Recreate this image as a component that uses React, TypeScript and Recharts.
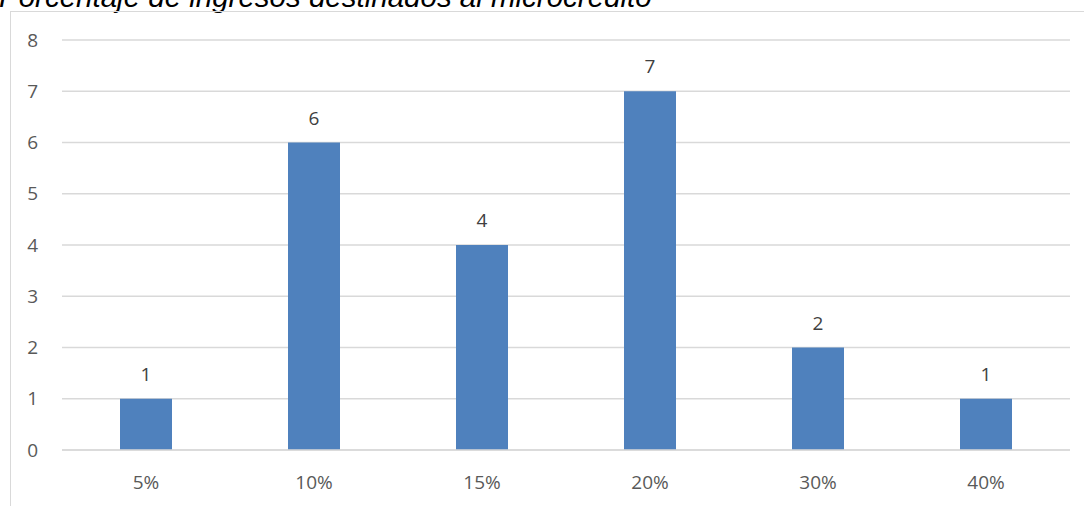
import { BarChart, Bar, XAxis, YAxis, CartesianGrid, LabelList } from "recharts"

const categories = ["5%", "10%", "15%", "20%", "30%", "40%"]
const counts = [1, 6, 4, 7, 2, 1]
const yTicks = [0, 1, 2, 3, 4, 5, 6, 7, 8]

const data = categories.map((name, i) => ({ name, value: counts[i] }))

const textColor = "#595959"
const gridColor = "#d9d9d9"
const font = "'Open Sans', sans-serif"

export default function App() {
  return (
    <div style={{ position: "absolute", left: 0, top: 0, width: 1084, height: 506, overflow: "hidden", background: "#fff" }}>
      <div
        style={{
          position: "absolute",
          left: -1,
          top: -20,
          lineHeight: "34px",
          fontFamily: "'Liberation Sans', Arial, sans-serif",
          fontStyle: "italic",
          fontSize: 29.5,
          whiteSpace: "nowrap",
          color: "#000",
        }}
      >
        Porcentaje de ingresos destinados al microcrédito
      </div>
      <div
        style={{
          position: "absolute",
          left: 10,
          top: 11,
          width: 1200,
          height: 600,
          borderLeft: `1px solid ${gridColor}`,
          borderTop: `1px solid ${gridColor}`,
        }}
      />
      <div style={{ position: "absolute", left: 0, top: 0 }}>
        <BarChart width={1084} height={506} data={data} margin={{ top: 40, right: 14, bottom: 26, left: 10 }}>
          <CartesianGrid vertical={false} stroke={gridColor} strokeWidth={1.5} />
          <XAxis
            dataKey="name"
            height={30}
            tickLine={false}
            axisLine={{ stroke: gridColor, strokeWidth: 1.5 }}
            tick={{ fontSize: 19, fill: textColor, fontFamily: font }}
            tickMargin={20}
          />
          <YAxis
            width={52}
            domain={[0, 8]}
            ticks={yTicks}
            axisLine={false}
            tickLine={false}
            tick={{ fontSize: 19, fill: textColor, fontFamily: font }}
            tickMargin={18}
          />
          <Bar dataKey="value" fill="#4f81bd" barSize={52} isAnimationActive={false}>
            <LabelList dataKey="value" position="top" offset={18} fill="#404040" fontSize={19} fontFamily={font} />
          </Bar>
        </BarChart>
      </div>
    </div>
  )
}
